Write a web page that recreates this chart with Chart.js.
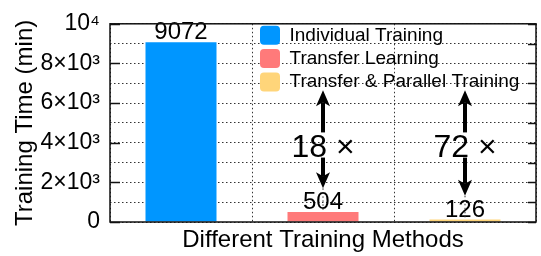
<!DOCTYPE html>
<html><head><meta charset="utf-8">
<script src="https://cdn.jsdelivr.net/npm/chart.js@4.4.1/dist/chart.umd.min.js"></script>
<style>html,body{margin:0;padding:0;background:#fff;}canvas{display:block;}</style>
</head><body>
<canvas id="c" width="541" height="256"></canvas>
<script>
const methods = ['Individual Training', 'Transfer Learning', 'Transfer & Parallel Training'];
const trainingTime = [9072, 504, 126];
const barColors = ['#0096FF', '#FF7A7A', '#FFD57A'];
const yTickValues = [0, 2000, 4000, 6000, 8000, 10000];
const yTickLabels = ['0', '2×10³', '4×10³', '6×10³', '8×10³', '10⁴'];
const speedupCategories = [1, 2];
const speedupLabels = ['18 ×', '72 ×'];
const xTitle = 'Different Training Methods';
const yTitle = 'Training Time (min)';

const FONT = "'Liberation Sans', Arial, Helvetica, sans-serif";
const INK = '#000';
const GRID = '#333';
const DASH = [1.5, 2.5];

const datasets = methods.map((m, i) => ({
  label: m,
  data: trainingTime.map((v, j) => (j === i ? v : null)),
  backgroundColor: barColors[i],
  borderWidth: 0,
  skipNull: true,
  categoryPercentage: 0.5,
  barPercentage: 1.0
}));

function drawArrow(ctx, x, y0, y1) {
  const s = Math.sign(y1 - y0);
  const L = 16, W = 14, N = 4;
  ctx.save();
  ctx.strokeStyle = INK; ctx.fillStyle = INK;
  ctx.lineWidth = 4; ctx.lineCap = 'butt';
  ctx.beginPath(); ctx.moveTo(x, y0); ctx.lineTo(x, y1 - s * (L - N)); ctx.stroke();
  ctx.beginPath();
  ctx.moveTo(x, y1);
  ctx.lineTo(x - W / 2, y1 - s * L);
  ctx.lineTo(x, y1 - s * (L - N));
  ctx.lineTo(x + W / 2, y1 - s * L);
  ctx.closePath(); ctx.fill();
  ctx.restore();
}

const annotate = {
  id: 'annotate',
  afterLayout(chart) {
    const lg = chart.legend, a = chart.chartArea;
    if (!lg) return;
    const pad = lg.options.labels.padding;
    lg.left = a.left + 150 - pad;
    lg.top = a.top + 2 - pad;
    lg.right = lg.left + lg.width;
    lg.bottom = lg.top + a.height;
  },
  afterDatasetsDraw(chart) {
    const ctx = chart.ctx, ys = chart.scales.y;
    ctx.save();
    ctx.fillStyle = INK;
    ctx.textAlign = 'center';
    ctx.textBaseline = 'alphabetic';
    ctx.font = '24px ' + FONT;
    const labelOffset = 3;
    methods.forEach((m, i) => {
      const bar = chart.getDatasetMeta(i).data[i];
      ctx.fillText(String(trainingTime[i]), bar.x, bar.y - labelOffset);
    });
    speedupCategories.forEach((ci, k) => {
      const bar = chart.getDatasetMeta(ci).data[ci];
      const x = bar.x;
      const upTip = ys.getPixelForValue(6650);
      const upBase = ys.getPixelForValue(4520);
      const textY = ys.getPixelForValue(3290);
      const downBase = ys.getPixelForValue(3250);
      const downTip = bar.y - labelOffset - 24 * 0.716 - 3.5;
      // dotted guide from arrow tip to bar
      ctx.save();
      ctx.strokeStyle = GRID; ctx.lineWidth = 1; ctx.setLineDash(DASH);
      ctx.beginPath(); ctx.moveTo(x, downTip); ctx.lineTo(x, bar.y); ctx.stroke();
      ctx.restore();
      drawArrow(ctx, x, upBase, upTip);
      drawArrow(ctx, x, downBase, downTip);
      ctx.font = '32px ' + FONT;
      ctx.fillText(speedupLabels[k], x, textY);
    });
    ctx.restore();
  },
  afterDraw(chart) {
    const ctx = chart.ctx, a = chart.chartArea, ys = chart.scales.y;
    ctx.save();
    ctx.strokeStyle = '#111';
    ctx.lineWidth = 1.5;
    ys.ticks.forEach(t => {
      const py = Math.round(ys.getPixelForValue(t.value)) + 0.5;
      ctx.beginPath();
      if (yTickValues.indexOf(t.value) >= 0) { ctx.moveTo(a.left, py); ctx.lineTo(a.left + 10, py); }
      ctx.moveTo(a.right - 8, py); ctx.lineTo(a.right, py);
      ctx.stroke();
    });
    ctx.strokeRect(a.left, a.top, a.right - a.left, a.bottom - a.top);
    ctx.restore();
  }
};

new Chart(document.getElementById('c'), {
  type: 'bar',
  data: { labels: methods, datasets },
  options: {
    responsive: false,
    animation: false,
    devicePixelRatio: 1,
    layout: { padding: { top: 17, right: 5, left: 0, bottom: 0 } },
    scales: {
      x: {
        afterFit: s => { s.height = 34; },
        ticks: { display: false },
        grid: { color: GRID, lineWidth: 1, drawTicks: false, offset: true },
        border: { display: false, dash: DASH },
        title: { display: true, text: xTitle, color: INK, font: { family: FONT, size: 24 }, padding: { top: 0, bottom: 1 } }
      },
      y: {
        min: 0, max: 10000,
        afterFit: s => { s.width = 110; },
        ticks: {
          stepSize: 1000, autoSkip: false, padding: 10, color: INK,
          font: { family: FONT, size: 23 },
          callback: v => { const i = yTickValues.indexOf(v); return i >= 0 ? yTickLabels[i] : ''; }
        },
        grid: { color: GRID, lineWidth: 1, drawTicks: false },
        border: { display: false, dash: DASH },
        title: { display: true, text: yTitle, color: INK, font: { family: FONT, size: 24 }, padding: { top: 11, bottom: 0 } }
      }
    },
    plugins: {
      tooltip: { enabled: false },
      legend: {
        position: 'chartArea', align: 'start',
        labels: {
          boxWidth: 20, boxHeight: 19, padding: 4.3, color: INK,
          font: { family: FONT, size: 19 }, useBorderRadius: true, borderRadius: 4
        }
      }
    }
  },
  plugins: [annotate]
});
</script>
</body></html>
